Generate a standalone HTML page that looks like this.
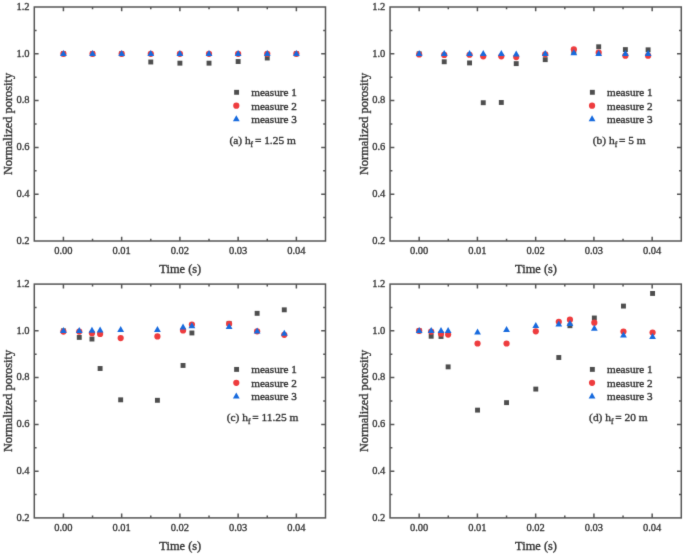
<!DOCTYPE html>
<html><head><meta charset="utf-8"><style>
html,body{margin:0;padding:0;background:#fff;}
body{width:685px;height:556px;overflow:hidden;}
svg{display:block;}
text{font-family:"Liberation Serif", serif;fill:#333333;stroke:#333333;stroke-width:0.35px;}
.t{stroke-width:0.3px;}
</style></head><body>
<svg width="685" height="556" viewBox="0 0 685 556">
<defs><filter id="soft" x="0" y="0" width="685" height="556" filterUnits="userSpaceOnUse" color-interpolation-filters="sRGB"><feConvolveMatrix order="3" kernelMatrix="0.0100 0.0800 0.0100 0.0800 0.6400 0.0800 0.0100 0.0800 0.0100" edgeMode="duplicate"/></filter></defs>
<g filter="url(#soft)">
<rect width="685" height="556" fill="#fff"/>
<g><path d="M63.42 241V236.7M63.42 7V11.3M92.54 241V238.7M92.54 7V9.3M121.66 241V236.7M121.66 7V11.3M150.78 241V238.7M150.78 7V9.3M179.9 241V236.7M179.9 7V11.3M209.02 241V238.7M209.02 7V9.3M238.14 241V236.7M238.14 7V11.3M267.26 241V238.7M267.26 7V9.3M296.38 241V236.7M296.38 7V11.3M34.3 217.6H36.6M325.5 217.6H323.2M34.3 194.2H38.6M325.5 194.2H321.2M34.3 170.8H36.6M325.5 170.8H323.2M34.3 147.4H38.6M325.5 147.4H321.2M34.3 124H36.6M325.5 124H323.2M34.3 100.6H38.6M325.5 100.6H321.2M34.3 77.2H36.6M325.5 77.2H323.2M34.3 53.8H38.6M325.5 53.8H321.2M34.3 30.4H36.6M325.5 30.4H323.2" stroke="#555555" stroke-width="1.5" fill="none"/><rect x="34.3" y="7" width="291.2" height="234" stroke="#555555" stroke-width="1.5" fill="none"/><text x="63.42" y="254.4" class="t" text-anchor="middle" font-size="10.5">0.00</text><text x="121.66" y="254.4" class="t" text-anchor="middle" font-size="10.5">0.01</text><text x="179.9" y="254.4" class="t" text-anchor="middle" font-size="10.5">0.02</text><text x="238.14" y="254.4" class="t" text-anchor="middle" font-size="10.5">0.03</text><text x="296.38" y="254.4" class="t" text-anchor="middle" font-size="10.5">0.04</text><text x="29.5" y="243.8" class="t" text-anchor="end" font-size="10.5">0.2</text><text x="29.5" y="197" class="t" text-anchor="end" font-size="10.5">0.4</text><text x="29.5" y="150.2" class="t" text-anchor="end" font-size="10.5">0.6</text><text x="29.5" y="103.4" class="t" text-anchor="end" font-size="10.5">0.8</text><text x="29.5" y="56.6" class="t" text-anchor="end" font-size="10.5">1.0</text><text x="29.5" y="9.8" class="t" text-anchor="end" font-size="10.5">1.2</text><text x="180.3" y="272.6" text-anchor="middle" font-size="12.4">Time (s)</text><text transform="translate(12 124) rotate(-90)" text-anchor="middle" font-size="12.4">Normalized porosity</text><rect x="60.97" y="51.35" width="4.9" height="4.9" fill="#4e4e4e"/><rect x="90.09" y="51.35" width="4.9" height="4.9" fill="#4e4e4e"/><rect x="119.21" y="51.35" width="4.9" height="4.9" fill="#4e4e4e"/><rect x="148.33" y="59.54" width="4.9" height="4.9" fill="#4e4e4e"/><rect x="177.45" y="60.71" width="4.9" height="4.9" fill="#4e4e4e"/><rect x="206.57" y="60.71" width="4.9" height="4.9" fill="#4e4e4e"/><rect x="235.69" y="59.07" width="4.9" height="4.9" fill="#4e4e4e"/><rect x="264.81" y="55.56" width="4.9" height="4.9" fill="#4e4e4e"/><rect x="293.93" y="51.35" width="4.9" height="4.9" fill="#4e4e4e"/><circle cx="63.42" cy="53.8" r="3.1" fill="#ee3c3e"/><circle cx="92.54" cy="53.8" r="3.1" fill="#ee3c3e"/><circle cx="121.66" cy="53.8" r="3.1" fill="#ee3c3e"/><circle cx="150.78" cy="53.8" r="3.1" fill="#ee3c3e"/><circle cx="179.9" cy="53.8" r="3.1" fill="#ee3c3e"/><circle cx="209.02" cy="53.8" r="3.1" fill="#ee3c3e"/><circle cx="238.14" cy="53.8" r="3.1" fill="#ee3c3e"/><circle cx="267.26" cy="53.8" r="3.1" fill="#ee3c3e"/><circle cx="296.38" cy="53.8" r="3.1" fill="#ee3c3e"/><path d="M63.42 50L66.82 56L60.02 56Z" fill="#176ade"/><path d="M92.54 50L95.94 56L89.14 56Z" fill="#176ade"/><path d="M121.66 50L125.06 56L118.26 56Z" fill="#176ade"/><path d="M150.78 50L154.18 56L147.38 56Z" fill="#176ade"/><path d="M179.9 50L183.3 56L176.5 56Z" fill="#176ade"/><path d="M209.02 50L212.42 56L205.62 56Z" fill="#176ade"/><path d="M238.14 50L241.54 56L234.74 56Z" fill="#176ade"/><path d="M267.26 50L270.66 56L263.86 56Z" fill="#176ade"/><path d="M296.38 50L299.78 56L292.98 56Z" fill="#176ade"/><rect x="234.15" y="89.85" width="4.9" height="4.9" fill="#4e4e4e"/><circle cx="236.3" cy="105.7" r="3.1" fill="#ee3c3e"/><path d="M236.3 115.3L239.7 121.3L232.9 121.3Z" fill="#176ade"/><text x="251.2" y="96.1" font-size="11.2">measure 1</text><text x="251.2" y="109.5" font-size="11.2">measure 2</text><text x="251.2" y="122.9" font-size="11.2">measure 3</text><text x="262.6" y="144.1" text-anchor="middle" font-size="11.4">(a) h<tspan font-size="7.5" dy="2.5">f</tspan><tspan dy="-2.5" dx="1.8">= 1.25 m</tspan></text></g>
<g><path d="M419.18 241V236.7M419.18 7V11.3M448.3 241V238.7M448.3 7V9.3M477.42 241V236.7M477.42 7V11.3M506.55 241V238.7M506.55 7V9.3M535.67 241V236.7M535.67 7V11.3M564.8 241V238.7M564.8 7V9.3M593.92 241V236.7M593.92 7V11.3M623.05 241V238.7M623.05 7V9.3M652.17 241V236.7M652.17 7V11.3M390.05 217.6H392.35M681.3 217.6H679M390.05 194.2H394.35M681.3 194.2H677M390.05 170.8H392.35M681.3 170.8H679M390.05 147.4H394.35M681.3 147.4H677M390.05 124H392.35M681.3 124H679M390.05 100.6H394.35M681.3 100.6H677M390.05 77.2H392.35M681.3 77.2H679M390.05 53.8H394.35M681.3 53.8H677M390.05 30.4H392.35M681.3 30.4H679" stroke="#555555" stroke-width="1.5" fill="none"/><rect x="390.05" y="7" width="291.25" height="234" stroke="#555555" stroke-width="1.5" fill="none"/><text x="419.18" y="254.4" class="t" text-anchor="middle" font-size="10.5">0.00</text><text x="477.42" y="254.4" class="t" text-anchor="middle" font-size="10.5">0.01</text><text x="535.67" y="254.4" class="t" text-anchor="middle" font-size="10.5">0.02</text><text x="593.92" y="254.4" class="t" text-anchor="middle" font-size="10.5">0.03</text><text x="652.17" y="254.4" class="t" text-anchor="middle" font-size="10.5">0.04</text><text x="385.25" y="243.8" class="t" text-anchor="end" font-size="10.5">0.2</text><text x="385.25" y="197" class="t" text-anchor="end" font-size="10.5">0.4</text><text x="385.25" y="150.2" class="t" text-anchor="end" font-size="10.5">0.6</text><text x="385.25" y="103.4" class="t" text-anchor="end" font-size="10.5">0.8</text><text x="385.25" y="56.6" class="t" text-anchor="end" font-size="10.5">1.0</text><text x="385.25" y="9.8" class="t" text-anchor="end" font-size="10.5">1.2</text><text x="536.07" y="272.6" text-anchor="middle" font-size="12.4">Time (s)</text><text transform="translate(367.75 124) rotate(-90)" text-anchor="middle" font-size="12.4">Normalized porosity</text><rect x="416.73" y="51.35" width="4.9" height="4.9" fill="#4e4e4e"/><rect x="441.77" y="59.31" width="4.9" height="4.9" fill="#4e4e4e"/><rect x="467.11" y="60.48" width="4.9" height="4.9" fill="#4e4e4e"/><rect x="480.8" y="100.26" width="4.9" height="4.9" fill="#4e4e4e"/><rect x="498.86" y="100.02" width="4.9" height="4.9" fill="#4e4e4e"/><rect x="513.77" y="61.18" width="4.9" height="4.9" fill="#4e4e4e"/><rect x="542.78" y="57.2" width="4.9" height="4.9" fill="#4e4e4e"/><rect x="571.38" y="49.48" width="4.9" height="4.9" fill="#4e4e4e"/><rect x="596.25" y="44.33" width="4.9" height="4.9" fill="#4e4e4e"/><rect x="622.93" y="47.14" width="4.9" height="4.9" fill="#4e4e4e"/><rect x="645.65" y="47.37" width="4.9" height="4.9" fill="#4e4e4e"/><circle cx="419.18" cy="54.5" r="3.1" fill="#ee3c3e"/><circle cx="444.22" cy="54.97" r="3.1" fill="#ee3c3e"/><circle cx="469.56" cy="54.74" r="3.1" fill="#ee3c3e"/><circle cx="483.25" cy="56.37" r="3.1" fill="#ee3c3e"/><circle cx="501.31" cy="56.37" r="3.1" fill="#ee3c3e"/><circle cx="516.22" cy="57.08" r="3.1" fill="#ee3c3e"/><circle cx="545.23" cy="54.27" r="3.1" fill="#ee3c3e"/><circle cx="573.83" cy="49.35" r="3.1" fill="#ee3c3e"/><circle cx="598.7" cy="52.63" r="3.1" fill="#ee3c3e"/><circle cx="625.38" cy="55.67" r="3.1" fill="#ee3c3e"/><circle cx="648.1" cy="55.67" r="3.1" fill="#ee3c3e"/><path d="M419.18 50L422.57 56L415.78 56Z" fill="#176ade"/><path d="M444.22 50L447.62 56L440.82 56Z" fill="#176ade"/><path d="M469.56 50L472.96 56L466.16 56Z" fill="#176ade"/><path d="M483.25 50L486.65 56L479.85 56Z" fill="#176ade"/><path d="M501.31 50L504.71 56L497.91 56Z" fill="#176ade"/><path d="M516.22 50.47L519.62 56.47L512.82 56.47Z" fill="#176ade"/><path d="M545.23 50L548.63 56L541.83 56Z" fill="#176ade"/><path d="M573.83 49.3L577.23 55.3L570.43 55.3Z" fill="#176ade"/><path d="M598.7 50L602.1 56L595.3 56Z" fill="#176ade"/><path d="M625.38 50L628.78 56L621.98 56Z" fill="#176ade"/><path d="M648.1 50L651.5 56L644.7 56Z" fill="#176ade"/><rect x="589.9" y="89.85" width="4.9" height="4.9" fill="#4e4e4e"/><circle cx="592.05" cy="105.7" r="3.1" fill="#ee3c3e"/><path d="M592.05 115.3L595.45 121.3L588.65 121.3Z" fill="#176ade"/><text x="606.95" y="96.1" font-size="11.2">measure 1</text><text x="606.95" y="109.5" font-size="11.2">measure 2</text><text x="606.95" y="122.9" font-size="11.2">measure 3</text><text x="619.25" y="144.1" text-anchor="middle" font-size="11.4">(b) h<tspan font-size="7.5" dy="2.5">f</tspan><tspan dy="-2.5" dx="1.8">= 5 m</tspan></text></g>
<g><path d="M63.42 517.9V513.6M63.42 284.1V288.4M92.54 517.9V515.6M92.54 284.1V286.4M121.66 517.9V513.6M121.66 284.1V288.4M150.78 517.9V515.6M150.78 284.1V286.4M179.9 517.9V513.6M179.9 284.1V288.4M209.02 517.9V515.6M209.02 284.1V286.4M238.14 517.9V513.6M238.14 284.1V288.4M267.26 517.9V515.6M267.26 284.1V286.4M296.38 517.9V513.6M296.38 284.1V288.4M34.3 494.52H36.6M325.5 494.52H323.2M34.3 471.14H38.6M325.5 471.14H321.2M34.3 447.76H36.6M325.5 447.76H323.2M34.3 424.38H38.6M325.5 424.38H321.2M34.3 401H36.6M325.5 401H323.2M34.3 377.62H38.6M325.5 377.62H321.2M34.3 354.24H36.6M325.5 354.24H323.2M34.3 330.86H38.6M325.5 330.86H321.2M34.3 307.48H36.6M325.5 307.48H323.2" stroke="#555555" stroke-width="1.5" fill="none"/><rect x="34.3" y="284.1" width="291.2" height="233.8" stroke="#555555" stroke-width="1.5" fill="none"/><text x="63.42" y="531.3" class="t" text-anchor="middle" font-size="10.5">0.00</text><text x="121.66" y="531.3" class="t" text-anchor="middle" font-size="10.5">0.01</text><text x="179.9" y="531.3" class="t" text-anchor="middle" font-size="10.5">0.02</text><text x="238.14" y="531.3" class="t" text-anchor="middle" font-size="10.5">0.03</text><text x="296.38" y="531.3" class="t" text-anchor="middle" font-size="10.5">0.04</text><text x="29.5" y="520.7" class="t" text-anchor="end" font-size="10.5">0.2</text><text x="29.5" y="473.94" class="t" text-anchor="end" font-size="10.5">0.4</text><text x="29.5" y="427.18" class="t" text-anchor="end" font-size="10.5">0.6</text><text x="29.5" y="380.42" class="t" text-anchor="end" font-size="10.5">0.8</text><text x="29.5" y="333.66" class="t" text-anchor="end" font-size="10.5">1.0</text><text x="29.5" y="286.9" class="t" text-anchor="end" font-size="10.5">1.2</text><text x="180.3" y="549.5" text-anchor="middle" font-size="12.4">Time (s)</text><text transform="translate(12 401) rotate(-90)" text-anchor="middle" font-size="12.4">Normalized porosity</text><rect x="60.97" y="328.41" width="4.9" height="4.9" fill="#4e4e4e"/><rect x="76.81" y="334.96" width="4.9" height="4.9" fill="#4e4e4e"/><rect x="89.51" y="336.59" width="4.9" height="4.9" fill="#4e4e4e"/><rect x="97.66" y="366.05" width="4.9" height="4.9" fill="#4e4e4e"/><rect x="118.22" y="397.38" width="4.9" height="4.9" fill="#4e4e4e"/><rect x="154.97" y="397.85" width="4.9" height="4.9" fill="#4e4e4e"/><rect x="180.59" y="363.01" width="4.9" height="4.9" fill="#4e4e4e"/><rect x="189.45" y="330.51" width="4.9" height="4.9" fill="#4e4e4e"/><rect x="226.66" y="320.93" width="4.9" height="4.9" fill="#4e4e4e"/><rect x="254.68" y="310.88" width="4.9" height="4.9" fill="#4e4e4e"/><rect x="281.82" y="307.37" width="4.9" height="4.9" fill="#4e4e4e"/><circle cx="63.42" cy="331.56" r="3.1" fill="#ee3c3e"/><circle cx="79.26" cy="331.56" r="3.1" fill="#ee3c3e"/><circle cx="91.96" cy="333.2" r="3.1" fill="#ee3c3e"/><circle cx="100.11" cy="333.9" r="3.1" fill="#ee3c3e"/><circle cx="120.67" cy="338.11" r="3.1" fill="#ee3c3e"/><circle cx="157.42" cy="336.47" r="3.1" fill="#ee3c3e"/><circle cx="183.04" cy="330.39" r="3.1" fill="#ee3c3e"/><circle cx="191.9" cy="324.55" r="3.1" fill="#ee3c3e"/><circle cx="229.11" cy="323.85" r="3.1" fill="#ee3c3e"/><circle cx="257.13" cy="331.33" r="3.1" fill="#ee3c3e"/><circle cx="284.27" cy="334.83" r="3.1" fill="#ee3c3e"/><path d="M63.42 327.06L66.82 333.06L60.02 333.06Z" fill="#176ade"/><path d="M79.26 327.06L82.66 333.06L75.86 333.06Z" fill="#176ade"/><path d="M91.96 326.83L95.36 332.83L88.56 332.83Z" fill="#176ade"/><path d="M100.11 326.59L103.51 332.59L96.71 332.59Z" fill="#176ade"/><path d="M120.67 325.89L124.07 331.89L117.27 331.89Z" fill="#176ade"/><path d="M157.42 326.12L160.82 332.12L154.02 332.12Z" fill="#176ade"/><path d="M183.04 323.55L186.44 329.55L179.64 329.55Z" fill="#176ade"/><path d="M191.9 322.15L195.3 328.15L188.5 328.15Z" fill="#176ade"/><path d="M229.11 323.09L232.51 329.09L225.71 329.09Z" fill="#176ade"/><path d="M257.13 327.53L260.53 333.53L253.73 333.53Z" fill="#176ade"/><path d="M284.27 329.63L287.67 335.63L280.87 335.63Z" fill="#176ade"/><rect x="234.15" y="366.95" width="4.9" height="4.9" fill="#4e4e4e"/><circle cx="236.3" cy="382.8" r="3.1" fill="#ee3c3e"/><path d="M236.3 392.4L239.7 398.4L232.9 398.4Z" fill="#176ade"/><text x="251.2" y="373.2" font-size="11.2">measure 1</text><text x="251.2" y="386.6" font-size="11.2">measure 2</text><text x="251.2" y="400" font-size="11.2">measure 3</text><text x="262.6" y="421.2" text-anchor="middle" font-size="11.4">(c) h<tspan font-size="7.5" dy="2.5">f</tspan><tspan dy="-2.5" dx="1.8">= 11.25 m</tspan></text></g>
<g><path d="M419.18 517.9V513.6M419.18 284.1V288.4M448.3 517.9V515.6M448.3 284.1V286.4M477.42 517.9V513.6M477.42 284.1V288.4M506.55 517.9V515.6M506.55 284.1V286.4M535.67 517.9V513.6M535.67 284.1V288.4M564.8 517.9V515.6M564.8 284.1V286.4M593.92 517.9V513.6M593.92 284.1V288.4M623.05 517.9V515.6M623.05 284.1V286.4M652.17 517.9V513.6M652.17 284.1V288.4M390.05 494.52H392.35M681.3 494.52H679M390.05 471.14H394.35M681.3 471.14H677M390.05 447.76H392.35M681.3 447.76H679M390.05 424.38H394.35M681.3 424.38H677M390.05 401H392.35M681.3 401H679M390.05 377.62H394.35M681.3 377.62H677M390.05 354.24H392.35M681.3 354.24H679M390.05 330.86H394.35M681.3 330.86H677M390.05 307.48H392.35M681.3 307.48H679" stroke="#555555" stroke-width="1.5" fill="none"/><rect x="390.05" y="284.1" width="291.25" height="233.8" stroke="#555555" stroke-width="1.5" fill="none"/><text x="419.18" y="531.3" class="t" text-anchor="middle" font-size="10.5">0.00</text><text x="477.42" y="531.3" class="t" text-anchor="middle" font-size="10.5">0.01</text><text x="535.67" y="531.3" class="t" text-anchor="middle" font-size="10.5">0.02</text><text x="593.92" y="531.3" class="t" text-anchor="middle" font-size="10.5">0.03</text><text x="652.17" y="531.3" class="t" text-anchor="middle" font-size="10.5">0.04</text><text x="385.25" y="520.7" class="t" text-anchor="end" font-size="10.5">0.2</text><text x="385.25" y="473.94" class="t" text-anchor="end" font-size="10.5">0.4</text><text x="385.25" y="427.18" class="t" text-anchor="end" font-size="10.5">0.6</text><text x="385.25" y="380.42" class="t" text-anchor="end" font-size="10.5">0.8</text><text x="385.25" y="333.66" class="t" text-anchor="end" font-size="10.5">1.0</text><text x="385.25" y="286.9" class="t" text-anchor="end" font-size="10.5">1.2</text><text x="536.07" y="549.5" text-anchor="middle" font-size="12.4">Time (s)</text><text transform="translate(367.75 401) rotate(-90)" text-anchor="middle" font-size="12.4">Normalized porosity</text><rect x="416.73" y="328.41" width="4.9" height="4.9" fill="#4e4e4e"/><rect x="428.72" y="333.79" width="4.9" height="4.9" fill="#4e4e4e"/><rect x="438.57" y="334.02" width="4.9" height="4.9" fill="#4e4e4e"/><rect x="445.68" y="364.42" width="4.9" height="4.9" fill="#4e4e4e"/><rect x="475.09" y="407.67" width="4.9" height="4.9" fill="#4e4e4e"/><rect x="504.1" y="400.19" width="4.9" height="4.9" fill="#4e4e4e"/><rect x="533.34" y="386.63" width="4.9" height="4.9" fill="#4e4e4e"/><rect x="556.35" y="355.06" width="4.9" height="4.9" fill="#4e4e4e"/><rect x="567.48" y="323.27" width="4.9" height="4.9" fill="#4e4e4e"/><rect x="591.88" y="315.55" width="4.9" height="4.9" fill="#4e4e4e"/><rect x="621.01" y="303.63" width="4.9" height="4.9" fill="#4e4e4e"/><rect x="650.13" y="291" width="4.9" height="4.9" fill="#4e4e4e"/><circle cx="419.18" cy="330.86" r="3.1" fill="#ee3c3e"/><circle cx="431.17" cy="331.56" r="3.1" fill="#ee3c3e"/><circle cx="441.02" cy="333.67" r="3.1" fill="#ee3c3e"/><circle cx="448.13" cy="334.6" r="3.1" fill="#ee3c3e"/><circle cx="477.54" cy="343.49" r="3.1" fill="#ee3c3e"/><circle cx="506.55" cy="343.49" r="3.1" fill="#ee3c3e"/><circle cx="535.79" cy="331.33" r="3.1" fill="#ee3c3e"/><circle cx="558.8" cy="321.74" r="3.1" fill="#ee3c3e"/><circle cx="569.93" cy="319.64" r="3.1" fill="#ee3c3e"/><circle cx="594.33" cy="322.68" r="3.1" fill="#ee3c3e"/><circle cx="623.46" cy="331.56" r="3.1" fill="#ee3c3e"/><circle cx="652.58" cy="332.5" r="3.1" fill="#ee3c3e"/><path d="M419.18 327.06L422.57 333.06L415.78 333.06Z" fill="#176ade"/><path d="M431.17 327.06L434.57 333.06L427.77 333.06Z" fill="#176ade"/><path d="M441.02 327.06L444.42 333.06L437.62 333.06Z" fill="#176ade"/><path d="M448.13 327.06L451.53 333.06L444.73 333.06Z" fill="#176ade"/><path d="M477.54 328.46L480.94 334.46L474.14 334.46Z" fill="#176ade"/><path d="M506.55 325.89L509.95 331.89L503.15 331.89Z" fill="#176ade"/><path d="M535.79 321.92L539.19 327.92L532.39 327.92Z" fill="#176ade"/><path d="M558.8 320.51L562.2 326.51L555.4 326.51Z" fill="#176ade"/><path d="M569.93 320.05L573.33 326.05L566.53 326.05Z" fill="#176ade"/><path d="M594.33 324.72L597.73 330.72L590.93 330.72Z" fill="#176ade"/><path d="M623.46 331.5L626.86 337.5L620.06 337.5Z" fill="#176ade"/><path d="M652.58 332.91L655.98 338.91L649.18 338.91Z" fill="#176ade"/><rect x="589.9" y="366.95" width="4.9" height="4.9" fill="#4e4e4e"/><circle cx="592.05" cy="382.8" r="3.1" fill="#ee3c3e"/><path d="M592.05 392.4L595.45 398.4L588.65 398.4Z" fill="#176ade"/><text x="606.95" y="373.2" font-size="11.2">measure 1</text><text x="606.95" y="386.6" font-size="11.2">measure 2</text><text x="606.95" y="400" font-size="11.2">measure 3</text><text x="618.35" y="421.2" text-anchor="middle" font-size="11.4">(d) h<tspan font-size="7.5" dy="2.5">f</tspan><tspan dy="-2.5" dx="1.8">= 20 m</tspan></text></g>
</g>
</svg>
</body></html>
